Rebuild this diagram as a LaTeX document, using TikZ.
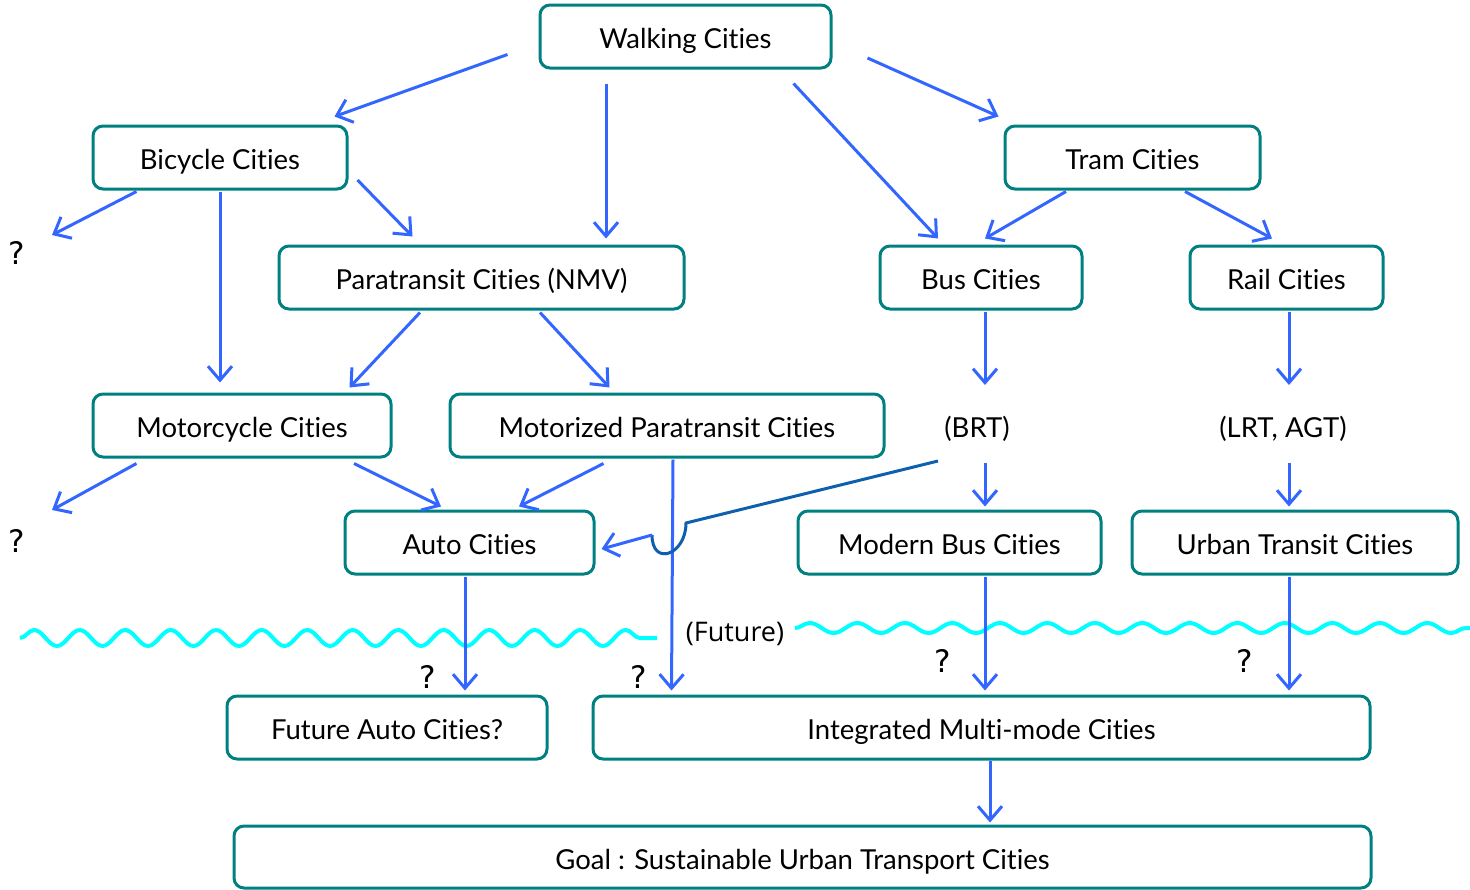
\documentclass[tikz,border=0pt]{standalone}
\usepackage{fontspec}
\setmainfont{Lato}[Ligatures={NoCommon}]
\newfontfamily\qmarkfont{DejaVu Sans}
\newfontfamily\futurefont{Open Sans}
\usetikzlibrary{
  arrows.meta,
  positioning,
  calc,
  decorations.pathmorphing
}
\definecolor{tcBox}{HTML}{008080}
\definecolor{tcFlow}{HTML}{3366FF}
\definecolor{tcLink}{HTML}{0F5FAF}
\definecolor{tcWave}{HTML}{00FFFF}
\tikzset{
  citynode/.style={
    draw=tcBox, line width=3pt, rounded corners=10pt, minimum height=63pt,
    inner sep=0pt, text height=30pt, text depth=6pt,
    font=\fontsize{27.5}{32}\selectfont, align=center
  },
  tagtext/.style={inner sep=0pt, text height=30pt, text depth=6pt, font=\fontsize{27.5}{32}\selectfont},
  qmark/.style={inner sep=0pt, font=\qmarkfont\fontsize{31}{36}\selectfont},
  futuretag/.style={inner sep=0pt, font=\futurefont\fontsize{27}{32}\selectfont},
  flow/.style={-{Straight Barb[length=14pt, width=24pt]}, line width=3pt, tcFlow},
  link/.style={line width=3pt, tcLink},
  wave/.style={line width=4pt, tcWave, decorate}
}

\begin{document}
\begin{tikzpicture}[x=1pt, y=-1pt]
  \useasboundingbox (0,0) rectangle (1470,889);

  \node[citynode, minimum width=291pt] (walk) at (685.5,36.5) {Walking Cities};
  \node[citynode, minimum width=254pt] (bike) at (220,157.5) {Bicycle Cities};
  \node[citynode, minimum width=255pt] (tram) at (1132.5,157.5) {Tram Cities};
  \node[citynode, minimum width=405pt] (para) at (481.5,277.5) {Paratransit Cities (NMV)};
  \node[citynode, minimum width=202pt] (bus) at (981,277.5) {Bus Cities};
  \node[citynode, minimum width=193pt] (rail) at (1286.5,277.5) {Rail Cities};
  \node[citynode, minimum width=298pt] (moto) at (242,425.5) {Motorcycle Cities};
  \node[citynode, minimum width=434pt] (mpara) at (667,425.5) {Motorized Paratransit Cities};
  \node[tagtext] (brt) at (977,425.5) {(BRT)};
  \node[tagtext] (lrt) at (1283,425.5) {(LRT, AGT)};
  \node[citynode, minimum width=249pt] (auto) at (469.5,542.5) {Auto Cities};
  \node[citynode, minimum width=303pt] (mbus) at (949.5,542.5) {Modern Bus Cities};
  \node[citynode, minimum width=326pt] (urban) at (1295,542.5) {Urban Transit Cities};
  \node[citynode, minimum width=320pt] (fauto) at (387,727.5) {Future Auto Cities?};
  \node[citynode, minimum width=777pt] (integ) at (981.5,727.5) {Integrated Multi-mode Cities};
  \node[citynode, minimum width=1137pt, minimum height=62pt] (goal) at (802.5,857) {Goal : Sustainable Urban Transport Cities};

  \node[qmark] (q1) at (17,253) {?};
  \node[qmark] (q2) at (17,541) {?};
  \node[qmark] (q3) at (428,677) {?};
  \node[qmark] (q4) at (639,677) {?};
  \node[qmark] (q5) at (943,661) {?};
  \node[qmark] (q6) at (1245,661) {?};
  \node[futuretag] (future) at (735,634) {(Future)};

  % future line
  \draw[wave, decoration={snake, amplitude=8pt, segment length=45.5pt}] (20,638) -- (657,638);
  \draw[wave, decoration={snake, amplitude=5pt, segment length=47.5pt}] (795,628) -- (1470,628);

  \draw[flow] ([shift={(-31,-15)}]walk.south west) -- ([shift={(-14,-8)}]bike.north east);
  \draw[flow] ([shift={(-79.5,14)}]walk.south) -- ([shift={(124.5,-6)}]para.north);
  \draw[flow] ([shift={(-39,14)}]walk.south east) -- ([shift={(-43,-6)}]bus.north);
  \draw[flow] ([shift={(35,21.5)}]walk.east) -- ([shift={(-5,-8)}]tram.north west);
  \draw[flow] ([shift={(45,1)}]bike.south west) -- ([shift={(35,-18)}]q1.center);
  \draw[flow] ([shift={(0,1)}]bike.south) -- ([shift={(-22,-10)}]moto.north);
  \draw[flow] ([shift={(9,22.5)}]bike.east) -- ([shift={(135,-8)}]para.north west);
  \draw[flow] ([shift={(-66.5,1)}]tram.south) -- ([shift={(4,-6)}]bus.north);
  \draw[flow] ([shift={(52.5,1)}]tram.south) -- ([shift={(-14.5,-6)}]rail.north);
  \draw[flow] ([shift={(-61.5,2)}]para.south) -- ([shift={(-43,-5)}]moto.north east);
  \draw[flow] ([shift={(58.5,2)}]para.south) -- ([shift={(161,-5)}]mpara.north west);
  \draw[flow] ([shift={(4,1)}]bus.south) -- ([shift={(8,-40.5)}]brt.center);
  \draw[flow] ([shift={(2.5,1)}]rail.south) -- ([shift={(6,-40.5)}]lrt.center);
  \draw[flow] ([shift={(45,5)}]moto.south west) -- ([shift={(35,-31)}]q2.center);
  \draw[flow] ([shift={(112,5)}]moto.south) -- ([shift={(-28.5,-3)}]auto.north);
  \draw[flow] ([shift={(155,5)}]mpara.south west) -- ([shift={(49.5,-3)}]auto.north);
  \draw[flow] ([shift={(6,1)}]mpara.south) -- ([shift={(80,-4)}]integ.north west);
  \draw[flow] ([shift={(8,37.5)}]brt.center) -- ([shift={(35.5,-3)}]mbus.north);
  \draw[flow] ([shift={(6,37.5)}]lrt.center) -- ([shift={(-6,-3)}]urban.north);
  \draw[flow] ([shift={(-4.5,1)}]auto.south) -- ([shift={(78,-4)}]fauto.north);
  \draw[flow] ([shift={(35.5,1)}]mbus.south) -- ([shift={(3.5,-4)}]integ.north);
  \draw[flow] ([shift={(-6,1)}]urban.south) -- ([shift={(307.5,-4)}]integ.north);
  \draw[flow] ([shift={(8.5,0)}]integ.south) -- ([shift={(187.5,-2)}]goal.north);

  % BRT to auto, hopping over the vertical line
  \coordinate (hopR) at (686,523);
  \coordinate (hopL) at (652,535);
  \draw[link] ([shift={(-39,35.5)}]brt.center) -- (hopR) .. controls +(0,32) and +(0,32) .. (hopL);
  \draw[flow] (hopL) -- ([shift={(6,6.5)}]auto.east);
\end{tikzpicture}
\end{document}
